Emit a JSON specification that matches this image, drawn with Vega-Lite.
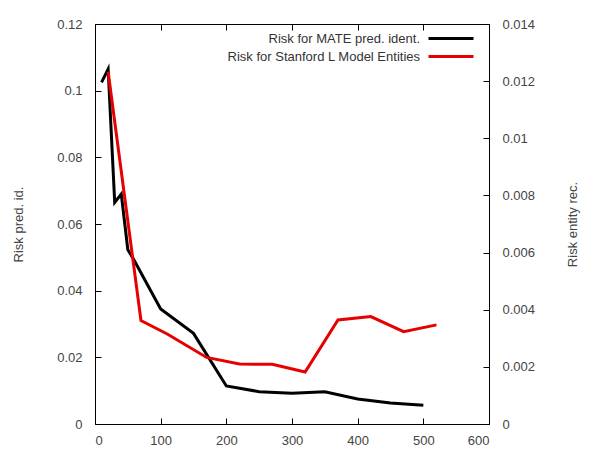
{
  "$schema": "https://vega.github.io/schema/vega-lite/v6.json",
  "width": 394,
  "height": 400,
  "autosize": {"type": "none"},
  "padding": {"left": 95, "top": 24, "right": 116, "bottom": 33},
  "background": "white",
  "config": {
    "font": "Liberation Sans",
    "view": {"stroke": "#000", "strokeWidth": 1},
    "axis": {
      "grid": false,
      "domain": false,
      "tickColor": "#000",
      "tickSize": -6,
      "labelFont": "Liberation Sans",
      "labelFontSize": 13,
      "labelColor": "#444",
      "labelPadding": 19,
      "titleFont": "Liberation Sans",
      "titleFontSize": 13,
      "titleFontWeight": "normal",
      "titleColor": "#444"
    },
    "legend": {
      "labelFont": "Liberation Sans",
      "labelFontSize": 13,
      "labelColor": "#333"
    }
  },
  "layer": [
    {
      "data": {
        "values": [
          {"x": 10, "v": 0.1025, "s": "Risk for MATE pred. ident."},
          {"x": 20, "v": 0.1065, "s": "Risk for MATE pred. ident."},
          {"x": 30, "v": 0.0665, "s": "Risk for MATE pred. ident."},
          {"x": 40, "v": 0.069, "s": "Risk for MATE pred. ident."},
          {"x": 50, "v": 0.0523, "s": "Risk for MATE pred. ident."},
          {"x": 60, "v": 0.049, "s": "Risk for MATE pred. ident."},
          {"x": 100, "v": 0.0345, "s": "Risk for MATE pred. ident."},
          {"x": 150, "v": 0.0272, "s": "Risk for MATE pred. ident."},
          {"x": 200, "v": 0.0114, "s": "Risk for MATE pred. ident."},
          {"x": 250, "v": 0.0097, "s": "Risk for MATE pred. ident."},
          {"x": 300, "v": 0.0092, "s": "Risk for MATE pred. ident."},
          {"x": 350, "v": 0.0097, "s": "Risk for MATE pred. ident."},
          {"x": 400, "v": 0.0075, "s": "Risk for MATE pred. ident."},
          {"x": 450, "v": 0.0063, "s": "Risk for MATE pred. ident."},
          {"x": 500, "v": 0.0056, "s": "Risk for MATE pred. ident."}
        ]
      },
      "mark": {"type": "line", "strokeWidth": 3},
      "encoding": {
        "x": {
          "field": "x", "type": "quantitative",
          "scale": {"domain": [0, 600], "nice": false},
          "axis": {"orient": "bottom", "title": null, "values": [0, 100, 200, 300, 400, 500, 600], "labelPadding": 16}
        },
        "y": {
          "field": "v", "type": "quantitative",
          "scale": {"domain": [0, 0.12], "nice": false},
          "axis": {"orient": "left", "title": "Risk pred. id.", "values": [0, 0.02, 0.04, 0.06, 0.08, 0.1, 0.12], "format": ".3~g", "titlePadding": 31}
        },
        "color": {
          "field": "s", "type": "nominal",
          "scale": {"domain": ["Risk for MATE pred. ident.", "Risk for Stanford L Model Entities"], "range": ["#000000", "#e60000"]},
          "legend": {
            "title": null,
            "orient": "none",
            "legendX": 345.5,
            "legendY": 4,
            "padding": 0,
            "rowPadding": 0,
            "symbolType": "M-2.5,0H2.5",
            "symbolSize": 324,
            "symbolStrokeWidth": 3,
            "labelAlign": "right",
            "labelOffset": -41.5,
            "labelLimit": 0
          }
        }
      }
    },
    {
      "data": {
        "values": [
          {"x": 20, "v": 0.01233, "s": "Risk for Stanford L Model Entities"},
          {"x": 70, "v": 0.00362, "s": "Risk for Stanford L Model Entities"},
          {"x": 110, "v": 0.00315, "s": "Risk for Stanford L Model Entities"},
          {"x": 170, "v": 0.00233, "s": "Risk for Stanford L Model Entities"},
          {"x": 220, "v": 0.0021, "s": "Risk for Stanford L Model Entities"},
          {"x": 270, "v": 0.00209, "s": "Risk for Stanford L Model Entities"},
          {"x": 320, "v": 0.00182, "s": "Risk for Stanford L Model Entities"},
          {"x": 370, "v": 0.00364, "s": "Risk for Stanford L Model Entities"},
          {"x": 420, "v": 0.00376, "s": "Risk for Stanford L Model Entities"},
          {"x": 470, "v": 0.00323, "s": "Risk for Stanford L Model Entities"},
          {"x": 520, "v": 0.00347, "s": "Risk for Stanford L Model Entities"}
        ]
      },
      "mark": {"type": "line", "strokeWidth": 3},
      "encoding": {
        "x": {
          "field": "x", "type": "quantitative",
          "scale": {"domain": [0, 600], "nice": false},
          "axis": {"orient": "top", "title": null, "labels": false, "values": [0, 100, 200, 300, 400, 500, 600]}
        },
        "y": {
          "field": "v", "type": "quantitative",
          "scale": {"domain": [0, 0.014], "nice": false},
          "axis": {"orient": "right", "title": "Risk entity rec.", "titleAngle": 270, "values": [0, 0.002, 0.004, 0.006, 0.008, 0.01, 0.012, 0.014], "format": ".3~g", "titlePadding": 45}
        },
        "color": {"field": "s", "type": "nominal"}
      }
    }
  ],
  "resolve": {"scale": {"x": "independent", "y": "independent"}}
}
